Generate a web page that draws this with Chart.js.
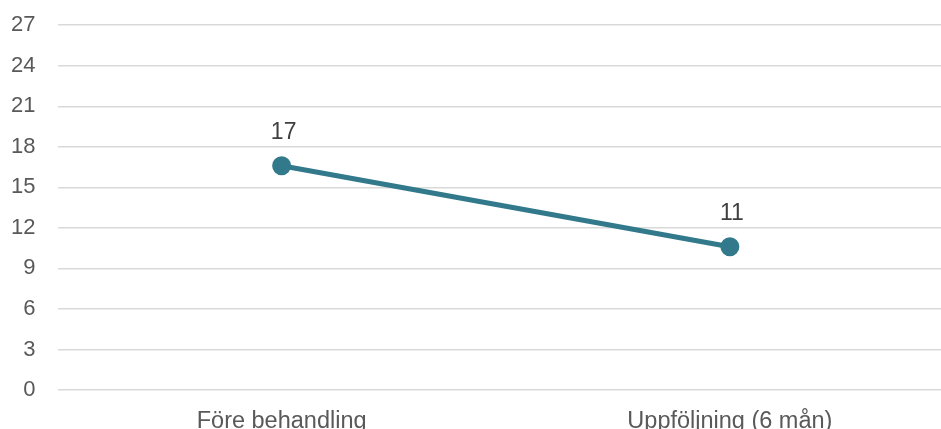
<!DOCTYPE html>
<html>
<head>
<meta charset="utf-8">
<script src="https://cdn.jsdelivr.net/npm/chart.js@4/dist/chart.umd.min.js"></script>
<style>
  html, body { margin: 0; padding: 0; background: #ffffff; overflow: hidden; }
  #wrap { width: 941px; height: 429px; overflow: hidden; position: relative; }
  #c { position: absolute; left: 0; top: -10px; }
</style>
</head>
<body>
<div id="wrap"><canvas id="c" width="966" height="442"></canvas></div>
<script>
const categories = ['Före behandling', 'Uppföljning (6 mån)'];
const values = [16.6, 10.6];
const yTicks = [0, 3, 6, 9, 12, 15, 18, 21, 24, 27];

const FONT = '"Liberation Sans", Arial, sans-serif';

// Writes each point's rounded value above the marker
const pointLabels = {
  id: 'pointLabels',
  afterDatasetsDraw(chart) {
    const ctx = chart.ctx;
    const meta = chart.getDatasetMeta(0);
    ctx.save();
    ctx.font = '23px ' + FONT;
    ctx.fillStyle = '#404040';
    ctx.textAlign = 'center';
    ctx.textBaseline = 'middle';
    meta.data.forEach((pt, i) => {
      ctx.fillText(String(Math.round(values[i])), pt.x + 2, pt.y - 33);
    });
    ctx.restore();
  }
};

new Chart(document.getElementById('c'), {
  type: 'line',
  data: {
    labels: categories,
    datasets: [{
      data: values,
      borderColor: '#31798B',
      backgroundColor: '#31798B',
      borderWidth: 5,
      pointRadius: 7,
      pointHoverRadius: 7,
      pointBackgroundColor: '#31798B',
      pointBorderColor: '#31798B',
      tension: 0,
      fill: false
    }]
  },
  options: {
    responsive: false,
    animation: false,
    devicePixelRatio: 1,
    layout: { padding: { left: 0, right: 8, top: 0, bottom: 0 } },
    plugins: { legend: { display: false }, tooltip: { enabled: false } },
    scales: {
      x: {
        offset: true,
        grid: { display: false },
        border: { display: false },
        afterFit(axis) { axis.height = 42; },
        ticks: { color: '#595959', font: { family: FONT, size: 23.5 }, padding: 9, maxRotation: 0 }
      },
      y: {
        min: 0,
        max: 27,
        afterBuildTicks(axis) { axis.ticks = yTicks.map(v => ({ value: v })); },
        afterFit(axis) { axis.width = 57.5; },
        grid: { color: '#d9d9d9', lineWidth: 1.5, drawTicks: false },
        border: { display: false },
        ticks: { color: '#595959', font: { family: FONT, size: 22 }, padding: 22 }
      }
    }
  },
  plugins: [pointLabels]
});
</script>
</body>
</html>
